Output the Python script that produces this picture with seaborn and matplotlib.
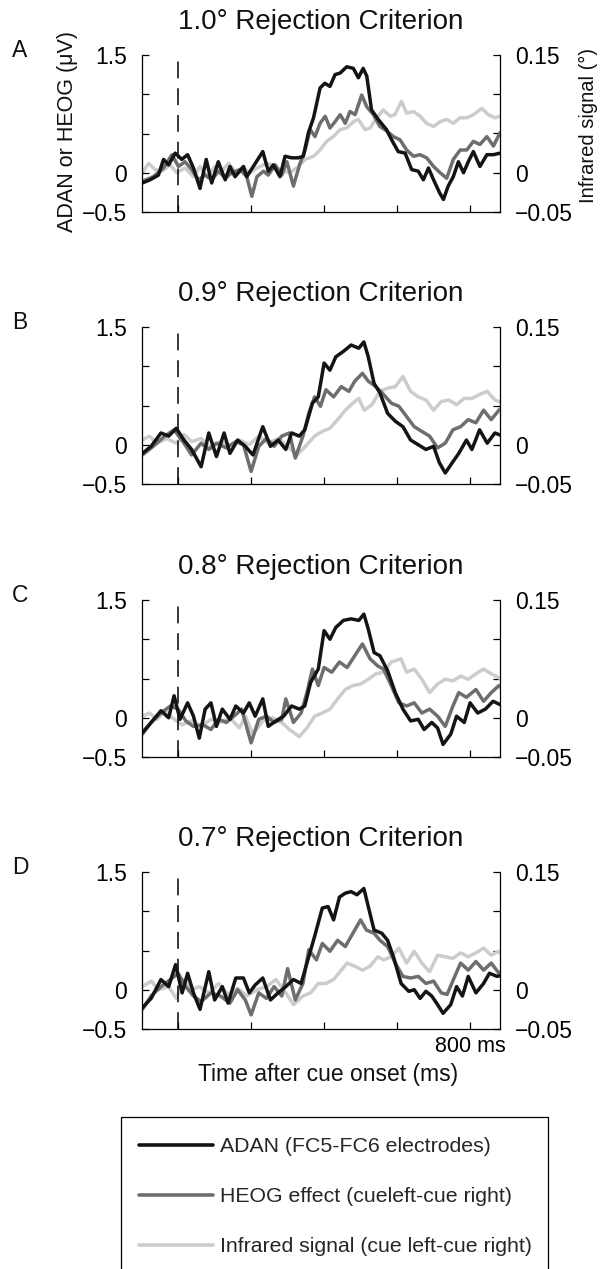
import numpy as np
import pandas as pd
import matplotlib
matplotlib.use("Agg")
import matplotlib.pyplot as plt
from matplotlib.patches import Rectangle
import seaborn as sns

# ---------------- data ----------------
# time in ms after cue onset; ADAN / HEOG in microvolts; infrared in degrees
A_ADAN_T = [-98, -77, -54, -40, -26, -8, 10, 26, 42, 60, 77, 92, 110, 129, 142, 156, 179, 188, 206, 232,
            247, 261, 279, 293, 311, 329, 343, 357, 371, 389, 402, 416, 430, 444, 462, 480, 494, 507, 517, 530,
            548, 571, 585, 603, 622, 640, 658, 672, 686, 700, 717, 727, 740, 754, 768, 782, 795, 809, 827, 846,
            864, 882]
A_ADAN_V = [-0.13, -0.09, -0.03, 0.17, 0.10, 0.25, 0.17, 0.23, 0.06, -0.20, 0.17, -0.13, 0.14, -0.09, 0.08,
            -0.05, 0.08, -0.05, 0.08, 0.27, 0.02, 0.10, -0.05, 0.21, 0.19, 0.19, 0.21, 0.51, 0.70, 1.08,
            1.14, 1.10, 1.25, 1.27, 1.35, 1.33, 1.21, 1.33, 1.23, 0.80, 0.68, 0.55, 0.42, 0.27, 0.25,
            0.04, 0.02, -0.09, 0.06, -0.09, -0.26, -0.34, -0.17, -0.05, 0.14, 0.00, 0.14, 0.27, 0.08, 0.23,
            0.23, 0.25]
A_HEOG_T = [-98, -68, -40, -17, 1, 19, 37, 56, 74, 92, 111, 129, 147, 170, 188, 202, 216, 234, 247, 266,
            284, 298, 316, 334, 348, 362, 375, 389, 403, 416, 430, 444, 458, 471, 485, 503, 517, 535, 553, 572,
            590, 608, 626, 645, 663, 681, 700, 718, 736, 754, 773, 791, 809, 827, 846, 864, 882]
A_HEOG_V = [-0.11, -0.05, 0.06, 0.23, 0.08, 0.14, 0.04, -0.09, -0.03, -0.09, 0.02, -0.07, 0.00, 0.04, -0.05,
            -0.30, -0.05, 0.02, -0.03, 0.10, -0.03, 0.14, -0.17, 0.12, 0.29, 0.55, 0.46, 0.63, 0.72, 0.57,
            0.65, 0.74, 0.63, 0.78, 0.74, 0.99, 0.84, 0.74, 0.59, 0.53, 0.46, 0.42, 0.29, 0.21, 0.23,
            0.19, 0.08, 0.00, -0.07, 0.17, 0.29, 0.29, 0.40, 0.36, 0.46, 0.34, 0.51]
A_IR_T = [-98, -81, -63, -45, -22, -4, 19, 42, 60, 79, 101, 120, 138, 156, 179, 197, 216, 243, 261, 284,
          307, 330, 348, 371, 389, 407, 425, 444, 462, 480, 494, 512, 526, 544, 562, 581, 594, 612, 626, 645,
          663, 681, 700, 718, 736, 754, 773, 791, 809, 832, 850, 868, 882]
A_IR_V = [0.000, 0.012, 0.004, 0.002, 0.010, 0.000, 0.006, -0.005, 0.008, -0.005, 0.008, 0.002, 0.012, 0.002,
          0.006, 0.000, 0.006, 0.012, 0.010, 0.002, 0.000, 0.008, 0.017, 0.021, 0.029, 0.040, 0.046, 0.055,
          0.057, 0.065, 0.068, 0.055, 0.057, 0.070, 0.080, 0.072, 0.074, 0.091, 0.076, 0.078, 0.072, 0.063,
          0.059, 0.065, 0.068, 0.063, 0.070, 0.070, 0.074, 0.082, 0.074, 0.070, 0.072]

B_ADAN_T = [-98, -74, -47, -26, -5, 16, 37, 63, 84, 105, 126, 142, 163, 184, 205, 232, 253, 274, 295, 311,
            332, 347, 368, 384, 400, 416, 432, 453, 474, 495, 509, 521, 537, 553, 574, 595, 616, 637, 658, 679,
            700, 716, 732, 748, 769, 790, 805, 826, 847, 868, 890]
B_ADAN_V = [-0.11, -0.02, 0.15, 0.11, 0.21, 0.06, -0.06, -0.28, 0.15, -0.15, 0.15, -0.11, 0.06, -0.02, -0.13,
            0.23, -0.02, 0.06, -0.06, 0.15, 0.11, 0.19, 0.53, 0.61, 1.04, 0.95, 1.12, 1.19, 1.27, 1.23,
            1.31, 1.12, 0.78, 0.66, 0.40, 0.30, 0.23, 0.06, 0.00, -0.06, -0.02, -0.23, -0.36, -0.25, -0.11,
            0.06, -0.06, 0.19, 0.02, 0.15, 0.11]
B_HEOG_T = [-98, -68, -37, -11, 16, 37, 63, 84, 105, 132, 158, 179, 200, 221, 242, 263, 284, 305, 321, 342,
            358, 374, 390, 405, 426, 447, 468, 484, 505, 521, 542, 563, 584, 605, 626, 647, 668, 689, 711, 732,
            753, 774, 795, 816, 837, 858, 879, 890]
B_HEOG_V = [-0.13, -0.02, 0.11, 0.19, 0.02, -0.13, 0.02, -0.06, 0.02, -0.04, 0.04, 0.00, -0.34, -0.02, 0.08,
            -0.02, 0.11, 0.15, -0.17, 0.11, 0.40, 0.61, 0.49, 0.70, 0.61, 0.74, 0.68, 0.81, 0.91, 0.81,
            0.74, 0.64, 0.53, 0.49, 0.36, 0.23, 0.17, 0.11, -0.04, 0.02, 0.19, 0.23, 0.32, 0.28, 0.44,
            0.32, 0.44, 0.49]
B_IR_T = [-98, -79, -58, -32, -5, 16, 37, 63, 90, 116, 142, 168, 195, 221, 247, 274, 300, 326, 353, 374,
          395, 416, 437, 458, 479, 495, 510, 531, 553, 574, 595, 616, 637, 658, 679, 700, 721, 742, 763, 784,
          805, 826, 847, 868, 890]
B_IR_V = [0.006, 0.011, 0.002, 0.008, 0.002, 0.013, 0.004, 0.008, -0.004, 0.004, -0.002, 0.006, 0.000, 0.011,
          0.002, 0.008, -0.002, -0.013, 0.000, 0.011, 0.017, 0.021, 0.032, 0.044, 0.053, 0.059, 0.044, 0.051,
          0.068, 0.072, 0.074, 0.087, 0.068, 0.061, 0.057, 0.044, 0.055, 0.057, 0.051, 0.059, 0.059, 0.064,
          0.068, 0.057, 0.053]

C_ADAN_T = [-98, -74, -47, -26, -11, 5, 26, 42, 58, 74, 90, 105, 121, 142, 158, 179, 195, 211, 232, 247,
            268, 289, 311, 332, 347, 363, 384, 400, 416, 432, 453, 474, 495, 509, 521, 537, 553, 574, 595, 616,
            637, 658, 674, 695, 711, 726, 747, 763, 784, 800, 821, 842, 863, 890]
C_ADAN_V = [-0.19, -0.06, 0.09, 0.00, 0.28, -0.02, 0.19, 0.02, -0.26, 0.11, 0.19, -0.11, 0.11, -0.02, 0.15,
            0.06, 0.19, 0.02, 0.24, -0.11, -0.04, 0.02, 0.15, 0.11, 0.15, 0.45, 0.62, 1.11, 1.00, 1.15,
            1.24, 1.26, 1.24, 1.32, 1.13, 0.83, 0.79, 0.60, 0.32, 0.11, -0.04, -0.02, -0.15, -0.06, -0.13,
            -0.34, -0.21, 0.02, -0.06, 0.19, 0.06, 0.11, 0.21, 0.15]
C_HEOG_T = [-98, -74, -47, -21, 0, 21, 42, 68, 90, 111, 132, 153, 174, 200, 221, 242, 263, 284, 295, 316,
            337, 353, 368, 384, 400, 421, 442, 463, 484, 505, 526, 547, 563, 584, 605, 626, 647, 668, 689, 711,
            732, 753, 769, 790, 816, 837, 858, 879, 890]
C_HEOG_V = [-0.21, -0.06, 0.06, 0.15, 0.11, -0.04, -0.11, -0.09, -0.15, -0.02, -0.06, 0.02, 0.11, -0.32, -0.02,
            0.02, -0.06, -0.02, 0.24, -0.06, 0.06, 0.32, 0.62, 0.41, 0.64, 0.58, 0.71, 0.64, 0.79, 0.94,
            0.75, 0.66, 0.62, 0.41, 0.19, 0.15, 0.19, 0.06, 0.11, 0.02, -0.11, 0.15, 0.32, 0.26, 0.36,
            0.21, 0.32, 0.41, 0.36]
C_IR_T = [-98, -79, -58, -37, -11, 11, 37, 63, 90, 116, 142, 168, 184, 205, 232, 258, 284, 305, 332, 353,
          374, 395, 416, 437, 458, 479, 500, 521, 542, 563, 584, 611, 626, 647, 668, 689, 711, 732, 753, 774,
          795, 816, 837, 858, 879, 890]
C_IR_V = [0.002, 0.006, -0.002, 0.009, -0.002, -0.009, -0.004, -0.011, -0.002, -0.006, 0.000, -0.013, 0.002,
          -0.021, -0.004, 0.000, -0.006, -0.015, -0.024, -0.013, 0.002, 0.006, 0.011, 0.024, 0.036, 0.041,
          0.043, 0.049, 0.056, 0.058, 0.071, 0.075, 0.058, 0.062, 0.049, 0.032, 0.043, 0.049, 0.047, 0.053,
          0.049, 0.056, 0.062, 0.056, 0.051, 0.047]

D_ADAN_T = [-98, -74, -47, -26, -7, 11, 26, 42, 60, 84, 100, 121, 137, 158, 179, 195, 211, 232, 253, 274,
            295, 316, 337, 353, 374, 395, 411, 426, 442, 458, 474, 490, 509, 521, 537, 558, 574, 590, 611, 632,
            647, 663, 679, 695, 711, 726, 747, 763, 779, 795, 816, 837, 853, 874, 890]
D_ADAN_V = [-0.23, -0.11, 0.13, 0.04, 0.32, -0.04, 0.21, -0.04, -0.25, 0.23, -0.13, 0.04, -0.17, 0.15, 0.15,
            -0.04, 0.06, 0.15, -0.13, -0.04, 0.04, 0.13, 0.08, 0.34, 0.68, 1.04, 1.06, 0.89, 1.18, 1.23,
            1.25, 1.21, 1.29, 1.06, 0.76, 0.72, 0.63, 0.42, 0.08, -0.02, 0.00, -0.11, -0.02, -0.08, -0.19,
            -0.30, -0.19, 0.04, -0.08, 0.17, -0.04, 0.08, 0.21, 0.17, 0.19]
D_HEOG_T = [-98, -74, -47, -21, 0, 21, 42, 63, 90, 116, 142, 163, 184, 200, 221, 242, 263, 284, 300, 321,
            342, 358, 379, 395, 416, 437, 458, 479, 500, 516, 537, 553, 574, 595, 616, 637, 658, 679, 700, 721,
            737, 758, 774, 795, 816, 837, 858, 879, 890]
D_HEOG_V = [-0.25, -0.08, 0.04, 0.13, 0.21, 0.04, -0.08, -0.15, -0.04, -0.08, -0.17, 0.00, -0.13, -0.32, -0.04,
            -0.11, 0.04, -0.08, 0.27, -0.13, 0.08, 0.51, 0.38, 0.59, 0.49, 0.63, 0.55, 0.72, 0.89, 0.76,
            0.72, 0.63, 0.55, 0.34, 0.17, 0.15, 0.17, 0.08, 0.11, -0.04, -0.06, 0.17, 0.34, 0.25, 0.36,
            0.25, 0.34, 0.21, 0.25]
D_IR_T = [-98, -74, -53, -26, -5, 16, 37, 58, 84, 111, 137, 163, 189, 216, 242, 268, 295, 316, 342, 363,
          384, 405, 426, 447, 463, 484, 505, 526, 547, 563, 584, 605, 626, 647, 668, 689, 711, 732, 753, 774,
          795, 816, 837, 858, 879, 890]
D_IR_V = [0.004, 0.011, 0.000, 0.004, -0.011, 0.013, 0.000, 0.004, -0.004, 0.008, -0.006, 0.002, -0.008, 0.000,
          0.004, 0.013, -0.004, -0.019, -0.008, -0.004, 0.008, 0.008, 0.013, 0.025, 0.034, 0.030, 0.025, 0.030,
          0.042, 0.038, 0.042, 0.053, 0.034, 0.049, 0.034, 0.023, 0.044, 0.042, 0.040, 0.047, 0.042, 0.047,
          0.053, 0.044, 0.049, 0.042]

PANEL_LETTERS = ["A", "B", "C", "D"]
PANEL_TITLES = ["1.0° Rejection Criterion", "0.9° Rejection Criterion",
                "0.8° Rejection Criterion", "0.7° Rejection Criterion"]
SERIES_LABELS = ["ADAN (FC5-FC6 electrodes)", "HEOG effect (cueleft-cue right)",
                 "Infrared signal (cue left-cue right)"]
LEFT_TICKS = [-0.5, 0, 0.5, 1.0, 1.5]
LEFT_TICKLABELS = ["\u22120.5", "0", "", "", "1.5"]
RIGHT_TICKS = [-0.05, 0, 0.05, 0.10, 0.15]
RIGHT_TICKLABELS = ["\u22120.05", "0", "", "", "0.15"]
X_TICKS = [0, 200, 400, 600, 800]
CUE_ONSET = 0

# ---------------- styling ----------------
sns.set_style("white")
plt.rcParams["font.family"] = ["Liberation Sans", "DejaVu Sans"]
plt.rcParams["axes.unicode_minus"] = True

C_ADAN = "#141414"
C_HEOG = "#6e6e6e"
C_IR = "#cccccc"
LW = 2.5

W, H = 600, 1269
fig = plt.figure(figsize=(W / 100, H / 100), dpi=100)

ax_left, ax_right = 142, 500
ax_tops = [55, 327, 600, 872]
ax_h = 157

panels = [
    (A_ADAN_T, A_ADAN_V, A_HEOG_T, A_HEOG_V, A_IR_T, A_IR_V),
    (B_ADAN_T, B_ADAN_V, B_HEOG_T, B_HEOG_V, B_IR_T, B_IR_V),
    (C_ADAN_T, C_ADAN_V, C_HEOG_T, C_HEOG_V, C_IR_T, C_IR_V),
    (D_ADAN_T, D_ADAN_V, D_HEOG_T, D_HEOG_V, D_IR_T, D_IR_V),
]

legend_handles = None
for i, (at, av, ht, hv, it, iv) in enumerate(panels):
    top = ax_tops[i]
    ax = fig.add_axes([ax_left / W, 1 - (top + ax_h) / H, (ax_right - ax_left) / W, ax_h / H])

    ax.axvline(CUE_ONSET, color="black", lw=1.1, linestyle=(0, (11, 6.5)), zorder=1)

    df_h = pd.DataFrame({"t": ht, "v": hv})
    df_a = pd.DataFrame({"t": at, "v": av})
    sns.lineplot(data=df_h, x="t", y="v", ax=ax, color=C_HEOG, lw=LW, estimator=None, sort=False)
    sns.lineplot(data=df_a, x="t", y="v", ax=ax, color=C_ADAN, lw=LW, estimator=None, sort=False)
    line_h = ax.lines[-2]
    line_a = ax.lines[-1]

    ax2 = ax.twinx()
    df_i = pd.DataFrame({"t": it, "v": iv})
    sns.lineplot(data=df_i, x="t", y="v", ax=ax2, color=C_IR, lw=LW, estimator=None, sort=False)
    line_i = ax2.lines[-1]
    ax2.set_zorder(ax.get_zorder() - 1)
    ax.patch.set_visible(False)

    ax.set_xlim(-99, 882)
    ax.set_ylim(-0.5, 1.5)
    ax2.set_ylim(-0.05, 0.15)

    ax.set_yticks(LEFT_TICKS)
    ax.set_yticklabels(LEFT_TICKLABELS)
    ax2.set_yticks(RIGHT_TICKS)
    ax2.set_yticklabels(RIGHT_TICKLABELS)
    ax.set_xticks(X_TICKS)
    if i == 3:
        ax.set_xticklabels(["", "", "", "", "800 ms"])
    else:
        ax.set_xticklabels([""] * len(X_TICKS))

    ax.set_xlabel("")
    ax.set_ylabel("")
    ax2.set_ylabel("")

    for a in (ax, ax2):
        a.spines["top"].set_visible(False)
        for s in a.spines.values():
            s.set_color("black")
            s.set_linewidth(0.9)
    ax.spines["right"].set_visible(False)
    ax2.spines["left"].set_visible(False)
    ax2.spines["bottom"].set_visible(False)

    ax.tick_params(axis="y", direction="in", length=5, width=0.9, labelsize=16.5, pad=11,
                   left=True, right=False, colors="black")
    ax.tick_params(axis="x", direction="in", length=5, width=0.9, labelsize=15.5, pad=5,
                   bottom=True, top=False, colors="black")
    ax2.tick_params(axis="y", direction="in", length=5, width=0.9, labelsize=16.5, pad=11,
                    right=True, left=False, colors="black")

    ax.set_title(PANEL_TITLES[i], fontsize=20, pad=19, color="#111111")
    fig.text(12 / W, 1 - (top + 2) / H, PANEL_LETTERS[i], fontsize=16.5, ha="left",
             va="baseline", color="#111111")

    if i == 0:
        legend_handles = [line_a, line_h, line_i]
        fig.text(67 / W, 1 - (top + ax_h / 2 - 2) / H, "ADAN or HEOG (\u03bcV)", rotation=90,
                 ha="center", va="center", fontsize=15.5, color="#111111")
        fig.text(588 / W, 1 - (top + ax_h / 2 - 8) / H, "Infrared signal (°)", rotation=90,
                 ha="center", va="center", fontsize=14.5, color="#111111")

fig.text(328 / W, 1 - 1075 / H, "Time after cue onset (ms)", ha="center", va="center",
         fontsize=16.5, color="#111111")

# legend frame (its lower edge runs past the bottom of the image, as in the original)
box_l, box_r, box_t, box_b = 121, 548, 1117, 1285
fig.patches.append(Rectangle((box_l / W, 1 - box_b / H), (box_r - box_l) / W, (box_b - box_t) / H,
                             transform=fig.transFigure, fill=False, edgecolor="black", lw=0.9))

leg = fig.legend(legend_handles, SERIES_LABELS, loc="upper left",
                 bbox_to_anchor=(139 / W, 1 - 1137 / H), bbox_transform=fig.transFigure,
                 frameon=False, fontsize=15.3,
                 handlelength=3.5, handletextpad=0.33, borderpad=0.0, labelspacing=1.47,
                 borderaxespad=0.0)
for ln in leg.get_lines():
    ln.set_linewidth(2.6)

fig.savefig("out.png", dpi=100)
